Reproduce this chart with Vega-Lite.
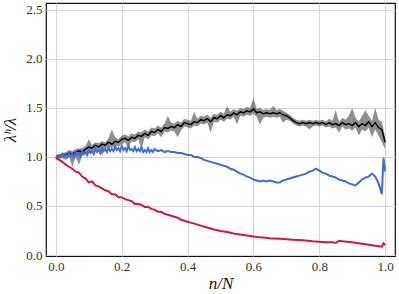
{
  "$schema": "https://vega.github.io/schema/vega-lite/v6.json",
  "width": 349,
  "height": 253,
  "autosize": "none",
  "padding": {"left": 46, "top": 3, "right": 4, "bottom": 38},
  "background": "white",
  "config": {
    "font": "serif",
    "view": {"stroke": "#111", "strokeWidth": 1.2},
    "axis": {
      "labelFont": "serif",
      "labelFontSize": 13,
      "labelColor": "#333",
      "titleFont": "serif",
      "titleFontStyle": "italic",
      "titleFontWeight": "normal",
      "titleColor": "#111",
      "titleFontSize": 17,
      "grid": true,
      "gridColor": "#d6d6d6",
      "gridWidth": 1,
      "ticks": false,
      "domain": false,
      "labelPadding": 4
    }
  },
  "datasets": {
    "black": [
      {"x":0.00,"y":1.00,"lo":0.98,"hi":1.02},{"x":0.01,"y":1.01,"lo":0.98,"hi":1.03},{"x":0.02,"y":1.02,"lo":0.99,"hi":1.04},{"x":0.03,"y":1.02,"lo":0.97,"hi":1.05},{"x":0.04,"y":1.04,"lo":1.0,"hi":1.07},{"x":0.05,"y":1.03,"lo":0.9,"hi":1.06},{"x":0.06,"y":1.05,"lo":1.0,"hi":1.08},{"x":0.07,"y":1.06,"lo":0.92,"hi":1.09},{"x":0.08,"y":1.05,"lo":1.01,"hi":1.09},{"x":0.09,"y":1.08,"lo":1.03,"hi":1.11},{"x":0.10,"y":1.10,"lo":1.05,"hi":1.18},{"x":0.11,"y":1.09,"lo":1.05,"hi":1.12},{"x":0.12,"y":1.12,"lo":1.08,"hi":1.15},{"x":0.13,"y":1.10,"lo":1.06,"hi":1.14},{"x":0.14,"y":1.13,"lo":1.02,"hi":1.16},{"x":0.15,"y":1.12,"lo":1.08,"hi":1.15},{"x":0.16,"y":1.15,"lo":1.11,"hi":1.19},{"x":0.17,"y":1.13,"lo":1.09,"hi":1.28},{"x":0.18,"y":1.16,"lo":1.12,"hi":1.2},{"x":0.19,"y":1.15,"lo":1.11,"hi":1.18},{"x":0.20,"y":1.18,"lo":1.13,"hi":1.22},{"x":0.21,"y":1.19,"lo":1.15,"hi":1.23},{"x":0.22,"y":1.17,"lo":1.1,"hi":1.21},{"x":0.23,"y":1.20,"lo":1.16,"hi":1.24},{"x":0.24,"y":1.19,"lo":1.15,"hi":1.23},{"x":0.25,"y":1.22,"lo":1.18,"hi":1.26},{"x":0.26,"y":1.21,"lo":1.08,"hi":1.25},{"x":0.27,"y":1.24,"lo":1.2,"hi":1.28},{"x":0.28,"y":1.22,"lo":1.18,"hi":1.26},{"x":0.29,"y":1.26,"lo":1.22,"hi":1.3},{"x":0.30,"y":1.25,"lo":1.21,"hi":1.29},{"x":0.31,"y":1.28,"lo":1.24,"hi":1.32},{"x":0.32,"y":1.26,"lo":1.2,"hi":1.3},{"x":0.33,"y":1.30,"lo":1.26,"hi":1.34},{"x":0.34,"y":1.29,"lo":1.25,"hi":1.42},{"x":0.35,"y":1.31,"lo":1.27,"hi":1.35},{"x":0.36,"y":1.30,"lo":1.26,"hi":1.34},{"x":0.37,"y":1.33,"lo":1.2,"hi":1.37},{"x":0.38,"y":1.31,"lo":1.27,"hi":1.35},{"x":0.39,"y":1.35,"lo":1.31,"hi":1.39},{"x":0.40,"y":1.34,"lo":1.3,"hi":1.38},{"x":0.41,"y":1.33,"lo":1.29,"hi":1.37},{"x":0.42,"y":1.36,"lo":1.32,"hi":1.46},{"x":0.43,"y":1.35,"lo":1.31,"hi":1.39},{"x":0.44,"y":1.38,"lo":1.34,"hi":1.42},{"x":0.45,"y":1.37,"lo":1.33,"hi":1.41},{"x":0.46,"y":1.39,"lo":1.35,"hi":1.43},{"x":0.47,"y":1.36,"lo":1.25,"hi":1.4},{"x":0.48,"y":1.40,"lo":1.36,"hi":1.44},{"x":0.49,"y":1.39,"lo":1.35,"hi":1.43},{"x":0.50,"y":1.42,"lo":1.38,"hi":1.46},{"x":0.51,"y":1.40,"lo":1.36,"hi":1.44},{"x":0.52,"y":1.43,"lo":1.39,"hi":1.52},{"x":0.53,"y":1.42,"lo":1.38,"hi":1.46},{"x":0.54,"y":1.45,"lo":1.41,"hi":1.49},{"x":0.55,"y":1.43,"lo":1.33,"hi":1.47},{"x":0.56,"y":1.46,"lo":1.42,"hi":1.5},{"x":0.57,"y":1.45,"lo":1.41,"hi":1.49},{"x":0.58,"y":1.47,"lo":1.43,"hi":1.51},{"x":0.59,"y":1.46,"lo":1.42,"hi":1.5},{"x":0.60,"y":1.49,"lo":1.44,"hi":1.6},{"x":0.61,"y":1.45,"lo":1.41,"hi":1.49},{"x":0.62,"y":1.46,"lo":1.33,"hi":1.5},{"x":0.63,"y":1.44,"lo":1.4,"hi":1.48},{"x":0.64,"y":1.45,"lo":1.41,"hi":1.49},{"x":0.65,"y":1.44,"lo":1.4,"hi":1.48},{"x":0.66,"y":1.45,"lo":1.41,"hi":1.52},{"x":0.67,"y":1.44,"lo":1.4,"hi":1.48},{"x":0.68,"y":1.45,"lo":1.41,"hi":1.49},{"x":0.69,"y":1.43,"lo":1.35,"hi":1.47},{"x":0.70,"y":1.42,"lo":1.38,"hi":1.45},{"x":0.71,"y":1.40,"lo":1.37,"hi":1.43},{"x":0.72,"y":1.37,"lo":1.34,"hi":1.4},{"x":0.73,"y":1.35,"lo":1.32,"hi":1.38},{"x":0.74,"y":1.34,"lo":1.31,"hi":1.37},{"x":0.75,"y":1.35,"lo":1.32,"hi":1.38},{"x":0.76,"y":1.34,"lo":1.31,"hi":1.37},{"x":0.77,"y":1.35,"lo":1.28,"hi":1.38},{"x":0.78,"y":1.34,"lo":1.31,"hi":1.37},{"x":0.79,"y":1.35,"lo":1.32,"hi":1.38},{"x":0.80,"y":1.34,"lo":1.31,"hi":1.37},{"x":0.81,"y":1.35,"lo":1.32,"hi":1.38},{"x":0.82,"y":1.33,"lo":1.3,"hi":1.36},{"x":0.83,"y":1.35,"lo":1.31,"hi":1.39},{"x":0.84,"y":1.33,"lo":1.29,"hi":1.37},{"x":0.85,"y":1.34,"lo":1.3,"hi":1.48},{"x":0.86,"y":1.32,"lo":1.25,"hi":1.36},{"x":0.87,"y":1.35,"lo":1.31,"hi":1.4},{"x":0.88,"y":1.33,"lo":1.28,"hi":1.38},{"x":0.89,"y":1.34,"lo":1.29,"hi":1.42},{"x":0.90,"y":1.32,"lo":1.27,"hi":1.5},{"x":0.91,"y":1.35,"lo":1.3,"hi":1.4},{"x":0.92,"y":1.31,"lo":1.22,"hi":1.36},{"x":0.93,"y":1.34,"lo":1.28,"hi":1.42},{"x":0.94,"y":1.32,"lo":1.26,"hi":1.48},{"x":0.95,"y":1.36,"lo":1.3,"hi":1.42},{"x":0.96,"y":1.31,"lo":1.2,"hi":1.37},{"x":0.97,"y":1.35,"lo":1.28,"hi":1.5},{"x":0.98,"y":1.30,"lo":1.22,"hi":1.38},{"x":0.99,"y":1.28,"lo":1.15,"hi":1.36},{"x":1.00,"y":1.15,"lo":1.08,"hi":1.2}
    ],
    "blue": [
      {"x":0.00,"y":1.00},{"x":0.005,"y":0.99},{"x":0.01,"y":1.01},{"x":0.015,"y":1.0},{"x":0.02,"y":1.03},{"x":0.025,"y":1.0},{"x":0.03,"y":1.02},{"x":0.035,"y":1.0},{"x":0.04,"y":1.04},{"x":0.045,"y":1.01},{"x":0.05,"y":1.03},{"x":0.055,"y":1.0},{"x":0.06,"y":1.05},{"x":0.065,"y":1.02},{"x":0.07,"y":1.04},{"x":0.075,"y":1.01},{"x":0.08,"y":1.06},{"x":0.085,"y":1.03},{"x":0.09,"y":1.05},{"x":0.095,"y":1.02},{"x":0.10,"y":1.07},{"x":0.105,"y":1.04},{"x":0.11,"y":1.06},{"x":0.115,"y":1.03},{"x":0.12,"y":1.08},{"x":0.125,"y":1.05},{"x":0.13,"y":1.07},{"x":0.135,"y":1.04},{"x":0.14,"y":1.09},{"x":0.145,"y":1.06},{"x":0.15,"y":1.08},{"x":0.155,"y":1.05},{"x":0.16,"y":1.10},{"x":0.165,"y":1.06},{"x":0.17,"y":1.08},{"x":0.175,"y":1.06},{"x":0.18,"y":1.11},{"x":0.185,"y":1.07},{"x":0.19,"y":1.09},{"x":0.195,"y":1.06},{"x":0.20,"y":1.11},{"x":0.205,"y":1.07},{"x":0.21,"y":1.09},{"x":0.215,"y":1.06},{"x":0.22,"y":1.12},{"x":0.225,"y":1.07},{"x":0.23,"y":1.08},{"x":0.235,"y":1.06},{"x":0.24,"y":1.10},{"x":0.245,"y":1.06},{"x":0.25,"y":1.08},{"x":0.255,"y":1.06},{"x":0.26,"y":1.10},{"x":0.265,"y":1.05},{"x":0.27,"y":1.07},{"x":0.275,"y":1.05},{"x":0.28,"y":1.09},{"x":0.285,"y":1.05},{"x":0.29,"y":1.07},{"x":0.295,"y":1.05},{"x":0.30,"y":1.08},{"x":0.31,"y":1.06},{"x":0.32,"y":1.07},{"x":0.33,"y":1.05},{"x":0.34,"y":1.06},{"x":0.35,"y":1.05},{"x":0.36,"y":1.05},{"x":0.37,"y":1.04},{"x":0.38,"y":1.04},{"x":0.39,"y":1.03},{"x":0.40,"y":1.02},{"x":0.41,"y":1.02},{"x":0.42,"y":1.00},{"x":0.43,"y":1.00},{"x":0.44,"y":0.99},{"x":0.45,"y":0.97},{"x":0.46,"y":0.96},{"x":0.47,"y":0.95},{"x":0.48,"y":0.94},{"x":0.49,"y":0.93},{"x":0.50,"y":0.92},{"x":0.51,"y":0.91},{"x":0.52,"y":0.90},{"x":0.53,"y":0.88},{"x":0.54,"y":0.87},{"x":0.55,"y":0.85},{"x":0.56,"y":0.83},{"x":0.57,"y":0.82},{"x":0.58,"y":0.80},{"x":0.59,"y":0.79},{"x":0.60,"y":0.77},{"x":0.61,"y":0.76},{"x":0.62,"y":0.75},{"x":0.63,"y":0.76},{"x":0.64,"y":0.75},{"x":0.65,"y":0.76},{"x":0.66,"y":0.75},{"x":0.67,"y":0.74},{"x":0.68,"y":0.74},{"x":0.69,"y":0.76},{"x":0.70,"y":0.77},{"x":0.71,"y":0.78},{"x":0.72,"y":0.79},{"x":0.73,"y":0.80},{"x":0.74,"y":0.81},{"x":0.75,"y":0.82},{"x":0.76,"y":0.83},{"x":0.77,"y":0.85},{"x":0.78,"y":0.86},{"x":0.79,"y":0.88},{"x":0.80,"y":0.86},{"x":0.81,"y":0.84},{"x":0.82,"y":0.83},{"x":0.83,"y":0.81},{"x":0.84,"y":0.80},{"x":0.85,"y":0.79},{"x":0.86,"y":0.77},{"x":0.87,"y":0.76},{"x":0.88,"y":0.75},{"x":0.89,"y":0.73},{"x":0.90,"y":0.72},{"x":0.91,"y":0.71},{"x":0.92,"y":0.74},{"x":0.93,"y":0.77},{"x":0.94,"y":0.79},{"x":0.95,"y":0.80},{"x":0.96,"y":0.83},{"x":0.97,"y":0.80},{"x":0.98,"y":0.73},{"x":0.985,"y":0.68},{"x":0.99,"y":0.62},{"x":0.995,"y":0.99},{"x":1.00,"y":0.85}
    ],
    "red": [
      {"x":0.00,"y":0.99},{"x":0.01,"y":0.97},{"x":0.02,"y":0.95},{"x":0.03,"y":0.92},{"x":0.04,"y":0.90},{"x":0.05,"y":0.88},{"x":0.06,"y":0.85},{"x":0.07,"y":0.84},{"x":0.08,"y":0.80},{"x":0.09,"y":0.78},{"x":0.10,"y":0.74},{"x":0.11,"y":0.75},{"x":0.12,"y":0.71},{"x":0.13,"y":0.70},{"x":0.14,"y":0.68},{"x":0.15,"y":0.66},{"x":0.16,"y":0.65},{"x":0.17,"y":0.62},{"x":0.18,"y":0.62},{"x":0.19,"y":0.59},{"x":0.20,"y":0.59},{"x":0.21,"y":0.57},{"x":0.22,"y":0.56},{"x":0.23,"y":0.55},{"x":0.24,"y":0.52},{"x":0.25,"y":0.52},{"x":0.26,"y":0.51},{"x":0.27,"y":0.49},{"x":0.28,"y":0.49},{"x":0.29,"y":0.47},{"x":0.30,"y":0.46},{"x":0.31,"y":0.44},{"x":0.32,"y":0.44},{"x":0.33,"y":0.42},{"x":0.34,"y":0.41},{"x":0.35,"y":0.40},{"x":0.36,"y":0.39},{"x":0.37,"y":0.38},{"x":0.38,"y":0.36},{"x":0.39,"y":0.35},{"x":0.40,"y":0.34},{"x":0.42,"y":0.32},{"x":0.44,"y":0.30},{"x":0.46,"y":0.28},{"x":0.48,"y":0.26},{"x":0.50,"y":0.245},{"x":0.52,"y":0.235},{"x":0.54,"y":0.22},{"x":0.56,"y":0.21},{"x":0.58,"y":0.20},{"x":0.60,"y":0.19},{"x":0.62,"y":0.18},{"x":0.65,"y":0.17},{"x":0.68,"y":0.165},{"x":0.70,"y":0.16},{"x":0.72,"y":0.155},{"x":0.75,"y":0.15},{"x":0.78,"y":0.14},{"x":0.80,"y":0.135},{"x":0.82,"y":0.13},{"x":0.84,"y":0.13},{"x":0.85,"y":0.125},{"x":0.86,"y":0.145},{"x":0.87,"y":0.14},{"x":0.90,"y":0.13},{"x":0.93,"y":0.115},{"x":0.96,"y":0.10},{"x":0.98,"y":0.09},{"x":0.99,"y":0.085},{"x":0.995,"y":0.12},{"x":1.00,"y":0.10}
    ]
  },
  "layer": [
    {
      "data": {"name": "black"},
      "mark": {"type": "area", "color": "#444", "opacity": 0.6},
      "encoding": {
        "x": {"field": "x", "type": "quantitative", "scale": {"domain": [-0.03, 1.03], "nice": false, "zero": false}, "axis": {"title": "n/N", "values": [0, 0.2, 0.4, 0.6, 0.8, 1.0], "format": ".1f", "titlePadding": 2}},
        "y": {"field": "lo", "type": "quantitative", "scale": {"domain": [-0.01, 2.57], "nice": false, "zero": false}, "axis": {"title": "λʰ/λ", "values": [0, 0.5, 1.0, 1.5, 2.0, 2.5], "format": ".1f", "titlePadding": 6}},
        "y2": {"field": "hi"}
      }
    },
    {
      "data": {"name": "black"},
      "mark": {"type": "line", "color": "#000", "strokeWidth": 1.5},
      "encoding": {
        "x": {"field": "x", "type": "quantitative", "axis": {"title": "n/N"}},
        "y": {"field": "y", "type": "quantitative", "axis": {"title": "λʰ/λ"}}
      }
    },
    {
      "data": {"name": "blue"},
      "mark": {"type": "line", "color": "#4169E1", "strokeWidth": 2},
      "encoding": {
        "x": {"field": "x", "type": "quantitative", "axis": {"title": "n/N"}},
        "y": {"field": "y", "type": "quantitative", "axis": {"title": "λʰ/λ"}}
      }
    },
    {
      "data": {"name": "red"},
      "mark": {"type": "line", "color": "#DC143C", "strokeWidth": 2},
      "encoding": {
        "x": {"field": "x", "type": "quantitative", "axis": {"title": "n/N"}},
        "y": {"field": "y", "type": "quantitative", "axis": {"title": "λʰ/λ"}}
      }
    }
  ]
}
